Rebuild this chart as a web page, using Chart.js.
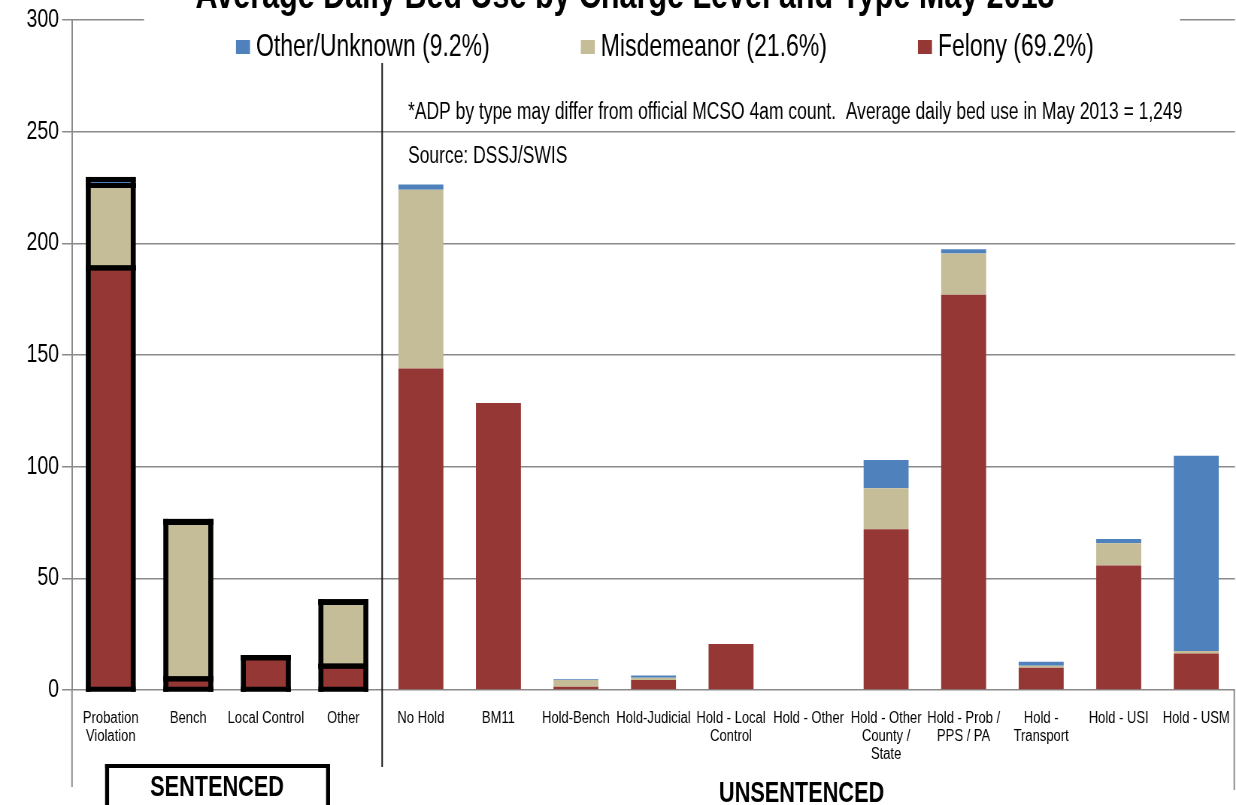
<!DOCTYPE html>
<html>
<head>
<meta charset="utf-8">
<script src="https://cdn.jsdelivr.net/npm/chart.js@4.4.1/dist/chart.umd.min.js"></script>
<style>
  html, body { margin: 0; padding: 0; background: #fff; overflow: hidden; }
  #wrap { height: 805px; position: absolute; left: 0; top: 0; transform-origin: 0 0; }
</style>
</head>
<body>
<div id="wrap"><canvas id="bedChart"></canvas></div>
<script>
const categories = [
  ['Probation', 'Violation'], 'Bench', 'Local Control', 'Other',
  'No Hold', 'BM11', 'Hold-Bench', 'Hold-Judicial', ['Hold - Local', 'Control'],
  'Hold - Other', ['Hold - Other', 'County /', 'State'], ['Hold - Prob /', 'PPS / PA'],
  ['Hold -', 'Transport'], 'Hold - USI', 'Hold - USM'
];
const felonyValues      = [189, 5, 14.5, 10.7, 144, 128.5, 1.5, 4.5, 20.6, 0, 72, 177, 10, 55.7, 16.3];
const misdemeanorValues = [36.9, 70, 0, 28.5, 80, 0, 3, 1, 0, 0, 18.3, 18.5, 0.9, 10, 1.2];
const otherValues       = [2.7, 0.5, 0, 0.4, 2.3, 0, 0.3, 1, 0, 0, 12.7, 1.8, 1.8, 1.9, 87.4];
const sentencedCount = 4;

const legendItems = [
  { text: 'Other/Unknown (9.2%)', color: '#4F81BD' },
  { text: 'Misdemeanor (21.6%)', color: '#C4BD97' },
  { text: 'Felony (69.2%)', color: '#953735' }
];
const titleText = 'Average Daily Bed Use by Charge Level and Type May 2013';
const noteText = '*ADP by type may differ from official MCSO 4am count.  Average daily bed use in May 2013 = 1,249';
const sourceText = 'Source: DSSJ/SWIS';

// the original picture is squeezed sideways: draw wide, then compress with CSS
const K = 1.33;
const wrap = document.getElementById('wrap');
wrap.style.width = Math.round(1236 * K) + 'px';
wrap.style.transform = 'scaleX(' + (1236 / Math.round(1236 * K)) + ')';

const FONT = "'Liberation Sans', Arial, sans-serif";
const GRID = '#8a8a8a';
Chart.defaults.font.family = FONT;
Chart.defaults.color = '#000';

const decorations = {
  id: 'decorations',
  afterDatasetsDraw(chart) {
    // thick black outlines on the sentenced bars, centred on the edges like Excel
    const ctx = chart.ctx;
    const hh = 2.5, hw = 2.5 * K;
    ctx.save();
    ctx.fillStyle = '#000';
    chart.data.datasets.forEach((ds, i) => {
      chart.getDatasetMeta(i).data.forEach((bar, j) => {
        if (j >= sentencedCount) return;
        const x0 = bar.x - bar.width / 2, x1 = bar.x + bar.width / 2;
        const top = Math.min(bar.y, bar.base), bot = Math.max(bar.y, bar.base);
        ctx.fillRect(x0 - hw, top - hh, x1 - x0 + 2 * hw, 2 * hh);
        ctx.fillRect(x0 - hw, bot - hh, x1 - x0 + 2 * hw, 2 * hh);
        ctx.fillRect(x0 - hw, top - hh, 2 * hw, bot - top + 2 * hh);
        ctx.fillRect(x1 - hw, top - hh, 2 * hw, bot - top + 2 * hh);
      });
    });
    ctx.restore();
  },
  afterDraw(chart) {
    const ctx = chart.ctx;
    const area = chart.chartArea;
    const xs = chart.scales.x;
    ctx.save();

    // axis extensions below plot
    ctx.fillStyle = GRID;
    ctx.fillRect(area.left - 0.75 * K, area.bottom, 1.5 * K, 787 - area.bottom);
    ctx.fillRect(area.right - 1.5 * K, area.bottom, 1.5 * K, 790 - area.bottom);

    // group separator
    const sepX = (xs.getPixelForValue(sentencedCount - 1) + xs.getPixelForValue(sentencedCount)) / 2;
    ctx.fillStyle = '#111';
    ctx.fillRect(sepX - 0.75 * K, 63, 1.5 * K, 767 - 63);

    // legend box hides top gridline
    ctx.fillStyle = '#fff';
    ctx.fillRect(144 * K, 10, 1036 * K, 52);

    // title (cut at top edge)
    ctx.fillStyle = '#000';
    ctx.font = 'bold ' + (30.5 * K) + 'px ' + FONT;
    ctx.textAlign = 'center';
    ctx.textBaseline = 'alphabetic';
    ctx.fillText(titleText, 625 * K, 8);

    // legend
    ctx.font = (23 * K) + 'px ' + FONT;
    ctx.textAlign = 'left';
    ctx.textBaseline = 'middle';
    let lx = 236 * K;
    legendItems.forEach(item => {
      ctx.fillStyle = item.color;
      ctx.fillRect(lx, 40, 14 * K, 14);
      ctx.fillStyle = '#000';
      ctx.fillText(item.text, lx + 20 * K, 48);
      lx += 20 * K + ctx.measureText(item.text).width + 91 * K;
    });

    // notes
    ctx.font = (17.5 * K) + 'px ' + FONT;
    ctx.fillText(noteText, 408 * K, 113);
    ctx.fillText(sourceText, 408 * K, 157);

    // group labels
    const sentCenter = (area.left + sepX) / 2 - 10 * K;
    const unsentCenter = (sepX + area.right) / 2 - 7 * K;
    ctx.fillStyle = '#000';
    const bx = sentCenter - 112 * K, bw = 225 * K;
    ctx.fillRect(bx, 764, bw, 4);
    ctx.fillRect(bx, 764, 4 * K, 60);
    ctx.fillRect(bx + bw - 4 * K, 764, 4 * K, 60);
    ctx.font = 'bold ' + (21.7 * K) + 'px ' + FONT;
    ctx.textAlign = 'center';
    ctx.fillText('SENTENCED', sentCenter, 788);
    ctx.fillText('UNSENTENCED', unsentCenter, 794);
    ctx.restore();
  }
};

const chart = new Chart(document.getElementById('bedChart'), {
  type: 'bar',
  data: {
    labels: categories,
    datasets: [
      { label: 'Felony (69.2%)', data: felonyValues, backgroundColor: '#953735' },
      { label: 'Misdemeanor (21.6%)', data: misdemeanorValues, backgroundColor: '#C4BD97' },
      { label: 'Other/Unknown (9.2%)', data: otherValues, backgroundColor: '#4F81BD' }
    ]
  },
  options: {
    responsive: true,
    maintainAspectRatio: false,
    animation: false,
    datasets: { bar: { barPercentage: 0.58, categoryPercentage: 1, borderWidth: 0 } },
    layout: { padding: { top: 20, right: 1 * K, bottom: 0, left: 0 } },
    plugins: {
      legend: { display: false },
      title: { display: false },
      tooltip: { enabled: false }
    },
    scales: {
      x: {
        stacked: true,
        grid: { display: false },
        border: { display: false },
        ticks: { autoSkip: false, maxRotation: 0, minRotation: 0, padding: 11, font: { size: 13 * K, lineHeight: 1.04 } },
        afterFit: scale => {
          scale.height = 115;
          scale.paddingLeft = 0;
          scale.paddingRight = 0;
        }
      },
      y: {
        stacked: true,
        min: 0,
        max: 300,
        ticks: { stepSize: 50, padding: 3 * K, font: { size: 19.5 * K } },
        grid: { color: GRID, lineWidth: 1.5, tickLength: 10 * K },
        border: { display: true, color: GRID, width: 1.5 * K },
        afterFit: scale => { scale.width = 72 * K; }
      }
    }
  },
  plugins: [decorations]
});
</script>
</body>
</html>
